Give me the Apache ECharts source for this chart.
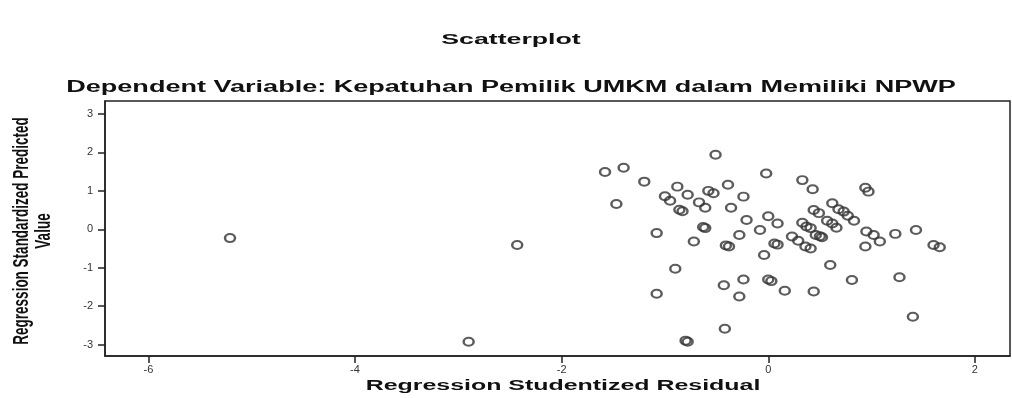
<!DOCTYPE html>
<html>
<head>
<meta charset="utf-8">
<script src="https://cdn.jsdelivr.net/npm/echarts@6/dist/echarts.min.js"></script>
<style>
  html, body { margin: 0; padding: 0; background: #fff; }
  #chart { width: 1012px; height: 398px; }
</style>
</head>
<body>
<div id="chart"></div>
<script>
// studentized residual (x) and standardized predicted value (y)
const residuals = [
  -5.21, -2.43, -2.90,
  -0.51, -1.58, -1.40, -0.02, -1.20, -0.88, -0.39, -1.00, -0.78, -0.58,
  -0.53, -0.95, -0.67, -0.24, -1.47, -0.61, -0.36, -0.86, -0.83, -0.21,
  0.00, -0.63, -0.61, -0.08, 0.09, -1.08, -0.28, -0.72, -0.41, -0.38,
  0.06, 0.09, -0.04, -0.90, -0.43, -0.24, 0.00, 0.03, -1.08, -0.28,
  -0.42, -0.80, -0.78,
  0.33, 0.43, 0.94, 0.97, 0.62, 0.68, 0.73, 0.77, 0.83, 0.44, 0.49,
  0.33, 0.37, 0.41, 0.57, 0.62, 0.66, 0.46, 0.52, 0.50, 0.95, 1.02,
  1.08, 1.23, 1.43, 0.23, 0.29, 0.36, 0.41, 0.94, 1.60, 1.66, 0.60,
  0.16, 0.44, 0.81, 1.27, 1.40
];
const predicted = [
  -0.23, -0.41, -2.93,
  1.94, 1.49, 1.60, 1.45, 1.24, 1.11, 1.16, 0.86, 0.90, 1.00,
  0.94, 0.74, 0.70, 0.85, 0.66, 0.56, 0.56, 0.51, 0.47, 0.24,
  0.34, 0.06, 0.03, -0.02, 0.15, -0.10, -0.15, -0.32, -0.42, -0.45,
  -0.37, -0.40, -0.67, -1.03, -1.46, -1.31, -1.31, -1.35, -1.68, -1.75,
  -2.59, -2.90, -2.93,
  1.28, 1.04, 1.08, 0.98, 0.68, 0.52, 0.46, 0.35, 0.22, 0.50, 0.42,
  0.17, 0.07, 0.03, 0.22, 0.15, 0.04, -0.15, -0.21, -0.18, -0.06, -0.15,
  -0.32, -0.12, -0.02, -0.19, -0.30, -0.45, -0.50, -0.45, -0.41, -0.47, -0.93,
  -1.60, -1.62, -1.32, -1.25, -2.28
];
const xTicks = [-6, -4, -2, 0, 2];
const yTicks = [-3, -2, -1, 0, 1, 2, 3];

const points = residuals.map((r, i) => [r, predicted[i]]);

const chart = echarts.init(document.getElementById("chart"));
const boldFont = '"Liberation Sans", Arial, sans-serif';

chart.setOption({
  animation: false,
  backgroundColor: "#fff",
  grid: {
    left: 105,
    right: 2,
    top: 101,
    bottom: 42,
    show: true,
    borderColor: "#222",
    borderWidth: 1.5,
  },
  xAxis: {
    type: "value",
    min: -6.42,
    max: 2.34,
    splitLine: { show: false },
    axisLine: { show: true, onZero: false, lineStyle: { color: "#222", width: 1.5 } },
    axisTick: { show: true, length: 7, customValues: xTicks, lineStyle: { color: "#222", width: 1.5 } },
    axisLabel: {
      customValues: xTicks,
      margin: 8,
      color: "#333",
      fontSize: 11,
      fontFamily: boldFont,
    },
  },
  yAxis: {
    type: "value",
    min: -3.3,
    max: 3.34,
    splitLine: { show: false },
    axisLine: { show: true, onZero: false, lineStyle: { color: "#222", width: 1.5 } },
    axisTick: { show: true, length: 7, customValues: yTicks, lineStyle: { color: "#222", width: 1.5 } },
    axisLabel: {
      customValues: yTicks,
      margin: 12,
      color: "#333",
      fontSize: 11,
      fontFamily: boldFont,
    },
  },
  graphic: [
    {
      type: "text",
      x: 511,
      y: 40,
      scaleX: 1.78,
      style: {
        text: "Scatterplot",
        font: "bold 15px " + boldFont,
        fill: "#111",
        align: "center",
        verticalAlign: "middle",
      },
    },
    {
      type: "text",
      x: 511,
      y: 88,
      scaleX: 1.69,
      style: {
        text: "Dependent Variable: Kepatuhan Pemilik UMKM dalam Memiliki NPWP",
        font: "bold 16px " + boldFont,
        fill: "#111",
        align: "center",
        verticalAlign: "middle",
      },
    },
    {
      type: "text",
      x: 563,
      y: 386,
      scaleX: 1.78,
      style: {
        text: "Regression Studentized Residual",
        font: "bold 14px " + boldFont,
        fill: "#111",
        align: "center",
        verticalAlign: "middle",
      },
    },
    {
      type: "text",
      x: 33,
      y: 231,
      rotation: Math.PI / 2,
      scaleY: 1.6,
      style: {
        text: "Regression Standardized Predicted\nValue",
        font: "bold 13.5px " + boldFont,
        lineHeight: 14,
        fill: "#111",
        align: "center",
        verticalAlign: "middle",
      },
    },
  ],
  series: [
    {
      type: "scatter",
      data: points,
      symbol: "circle",
      symbolSize: [10, 8],
      itemStyle: {
        color: "rgba(255,255,255,0)",
        borderColor: "#333",
        borderWidth: 2.2,
      },
    },
  ],
});
</script>
</body>
</html>
